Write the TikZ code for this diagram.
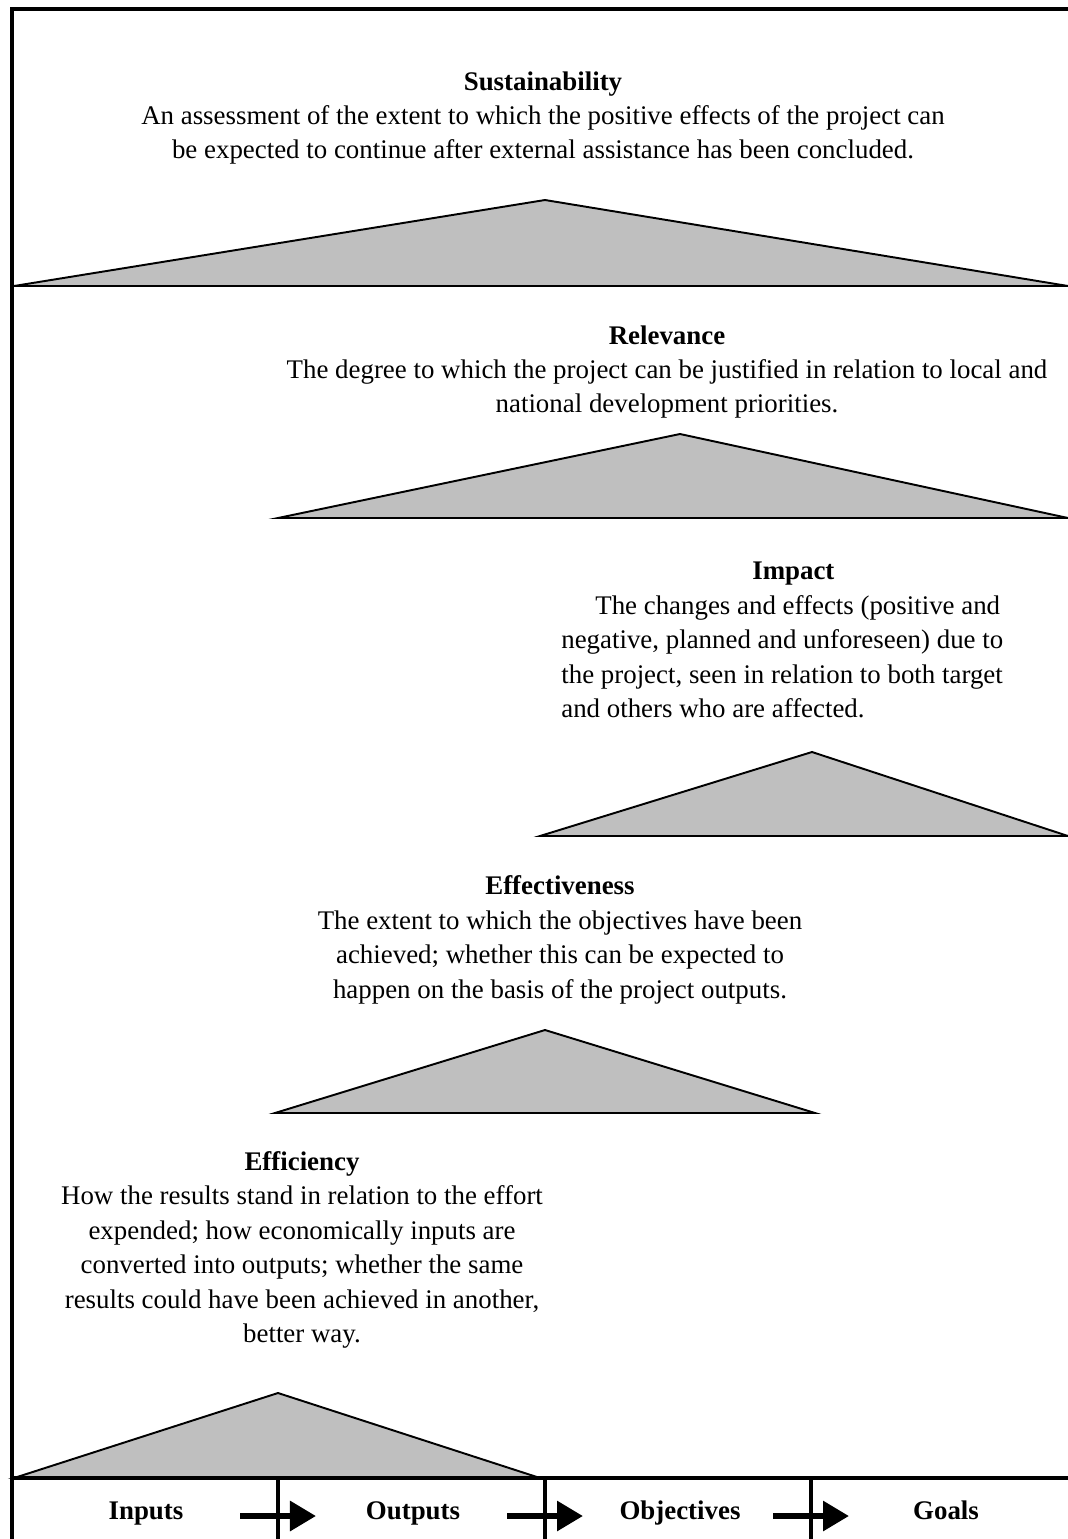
\documentclass[tikz,border=0pt]{standalone}
\usepackage{fontspec}
\setmainfont{Liberation Serif}
\usetikzlibrary{arrows.meta}

\begin{document}
\begin{tikzpicture}[
    x=0.02cm, y=-0.02cm,
    tri/.style={draw, line width=1.1pt, fill=black!25, line join=miter},
    frameline/.style={draw, line width=2pt},
    divider/.style={draw, line width=2.2pt},
    block/.style={align=center, inner sep=0pt, font=\fontsize{15.3}{19.6}\selectfont},
    cell/.style={inner sep=0pt, anchor=base, font=\bfseries\fontsize{15.3}{19.6}\selectfont},
    flow/.style={draw, line width=3.4pt, -{Triangle[length=14.8pt, width=16.5pt]}}
]

\useasboundingbox (0,0) rectangle (1068,1539);

% Define triangles
\draw[tri] (14,286) -- (545,200) -- (1068,286) -- cycle;
\draw[tri] (278,518) -- (680,434) -- (1068,518) -- cycle;
\draw[tri] (540,836) -- (812,752) -- (1068,836) -- cycle;
\draw[tri] (275,1113) -- (545,1030) -- (815,1113) -- cycle;
\draw[tri] (14,1478) -- (278,1393) -- (540,1478) -- cycle;

% Define frame and bottom row
\draw[frameline] (12,1539) -- (12,9) -- (1068,9);
\draw[divider] (12,1478) -- (1068,1478);
\foreach \x in {278,545,811}
    \draw[divider] (\x,1478) -- (\x,1539);

% Define criteria texts
\node[block] (sust) at (543,118) {\textbf{Sustainability}\\
    An assessment of the extent to which the positive effects of the project can\\
    be expected to continue after external assistance has been concluded.};
\node[block] (rel) at (667,372) {\textbf{Relevance}\\
    The degree to which the project can be justified in relation to local and\\
    national development priorities.};
\node[block, align=left, anchor=west] (imp) at (561,640) {\hspace*{3.82cm}\textbf{Impact}\\
    \hspace*{0.68cm}The changes and effects (positive and\\
    negative, planned and unforeseen) due to\\
    the project, seen in relation to both target\\
    and others who are affected.};
\node[block] (eff) at (560,940) {\textbf{Effectiveness}\\
    The extent to which the objectives have been\\
    achieved; whether this can be expected to\\
    happen on the basis of the project outputs.};
\node[block] (effi) at (302,1250) {\textbf{Efficiency}\\
    How the results stand in relation to the effort\\
    expended; how economically inputs are\\
    converted into outputs; whether the same\\
    results could have been achieved in another,\\
    better way.};

% Define chain labels
\node[cell] (inputs) at (146,1519) {Inputs};
\node[cell] (outputs) at (413,1519) {Outputs};
\node[cell] (objectives) at (680,1519) {Objectives};
\node[cell] (goals) at (946,1519) {Goals};

% Define arrows between cells
\foreach \x [count=\i] in {278,545,811} {
    \coordinate (s\i) at (\x-38,1516);
    \coordinate (t\i) at (\x+38,1516);
    \draw[flow] (s\i) -- (t\i);
}

\end{tikzpicture}
\end{document}
